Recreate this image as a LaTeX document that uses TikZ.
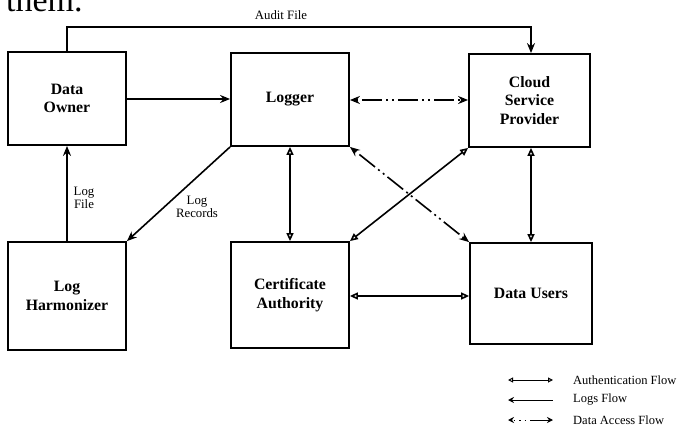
\documentclass[tikz,border=0pt]{standalone}
\usepackage{fontspec}
\setmainfont{Liberation Serif}
\usetikzlibrary{arrows.meta}
\begin{document}
\begin{tikzpicture}[x=1pt,y=-1pt,
  box/.style={draw,line width=1.8pt,rectangle,inner sep=0pt,align=center,
    font=\fontsize{15.8}{18.5}\selectfont\bfseries},
  conn/.style={line width=1.6pt},
  filled/.style={-{Stealth[length=10pt,width=8pt]}},
  auth/.style={{Triangle[open,length=8pt,width=7pt]}-{Triangle[open,length=8pt,width=7pt]}},
  dad/.style={conn,dash pattern=on 20pt off 4pt on 2pt off 4pt on 2pt off 4pt,dash phase=-6pt,
    {Stealth[length=10pt,width=8pt]}-{Stealth[length=10pt,width=8pt]}},
  lbl/.style={font=\fontsize{12.8}{13.5}\selectfont,align=center,inner sep=0pt},
  leg/.style={font=\fontsize{12.5}{13}\selectfont,anchor=west,inner sep=0pt}]
\useasboundingbox (0,0) rectangle (677,428);
\clip (0,0) rectangle (677,428);
\node[anchor=base west,inner sep=0pt,font=\fontsize{34}{34}\selectfont] (them) at (6,12) {them.};

\node[box,minimum width=118pt,minimum height=93pt] (do) at (67,98.5) {Data\\Owner};
\node[box,minimum width=118pt,minimum height=93pt] (lg) at (290,99.5) {Logger};
\node[box,minimum width=121pt,minimum height=93pt] (csp) at (529.5,100.5) {Cloud\\Service\\Provider};
\node[box,minimum width=118pt,minimum height=108pt] (lh) at (67,296) {Log\\Harmonizer};
\node[box,minimum width=118pt,minimum height=106pt] (ca) at (290,295) {Certificate\\Authority};
\node[box,minimum width=122pt,minimum height=101pt] (du) at (531,293.5) {Data Users};

% Audit file
\coordinate (a1) at (67,27);
\coordinate (a2) at (531,27);
\draw[conn,filled] (do.north) -- (a1) -- (a2) -- (csp.north -| a2);
\node[lbl] (audit) at (281,15) {Audit File};

% Data owner -> Logger
\draw[conn,filled] (do.east |- 0,99) -- (lg.west |- 0,99);
% Logger <-> CSP
\draw[dad] (lg.east |- 0,100) -- (csp.west |- 0,100);
% Logger -> LH
\draw[conn,filled] (lg.south west) -- (lh.north east);
\node[lbl] (logrec) at (197,207) {Log\\Records};
% LH -> DO
\draw[conn,filled] (lh.north) -- (do.south);
\node[lbl] (logfile) at (84,198) {Log\\File};
% Logger <-> CA
\draw[conn,auth] (lg.south) -- (ca.north);
% CSP <-> DU
\coordinate (cx) at (531,0);
\draw[conn,auth] (csp.south -| cx) -- (du.north -| cx);
% CSP <-> CA
\draw[conn,auth] (csp.south west) -- (ca.north east);
% Logger <-> DU
\draw[dad] (lg.south east) -- (du.north west);
% CA <-> DU
\draw[conn,auth] (ca.east |- 0,296) -- (du.west |- 0,296);

% Legend
\coordinate (l1a) at (508,380); \coordinate (l1b) at (553,380);
\coordinate (l2a) at (508,400); \coordinate (l2b) at (553,400);
\coordinate (l3a) at (508,420); \coordinate (l3m) at (532,420); \coordinate (l3b) at (553,420);
\draw[line width=1pt,{Triangle[open,length=5pt,width=5pt]}-{Triangle[open,length=5pt,width=5pt]}] (l1a) -- (l1b);
\draw[line width=1pt,{Stealth[length=6pt,width=6pt]}-] (l2a) -- (l2b);
\draw[line width=1pt,dash pattern=on 1.5pt off 4pt,dash phase=-2pt,{Stealth[length=6pt,width=6pt]}-] (l3a) -- (l3m);
\draw[line width=1pt,-{Stealth[length=6pt,width=6pt]}] (l3m) -- (l3b);
\node[leg] (t1) at (573,380) {Authentication Flow};
\node[leg] (t2) at (573,400) {Logs Flow};
\node[leg] (t3) at (573,420) {Data Access Flow};
\end{tikzpicture}
\end{document}
